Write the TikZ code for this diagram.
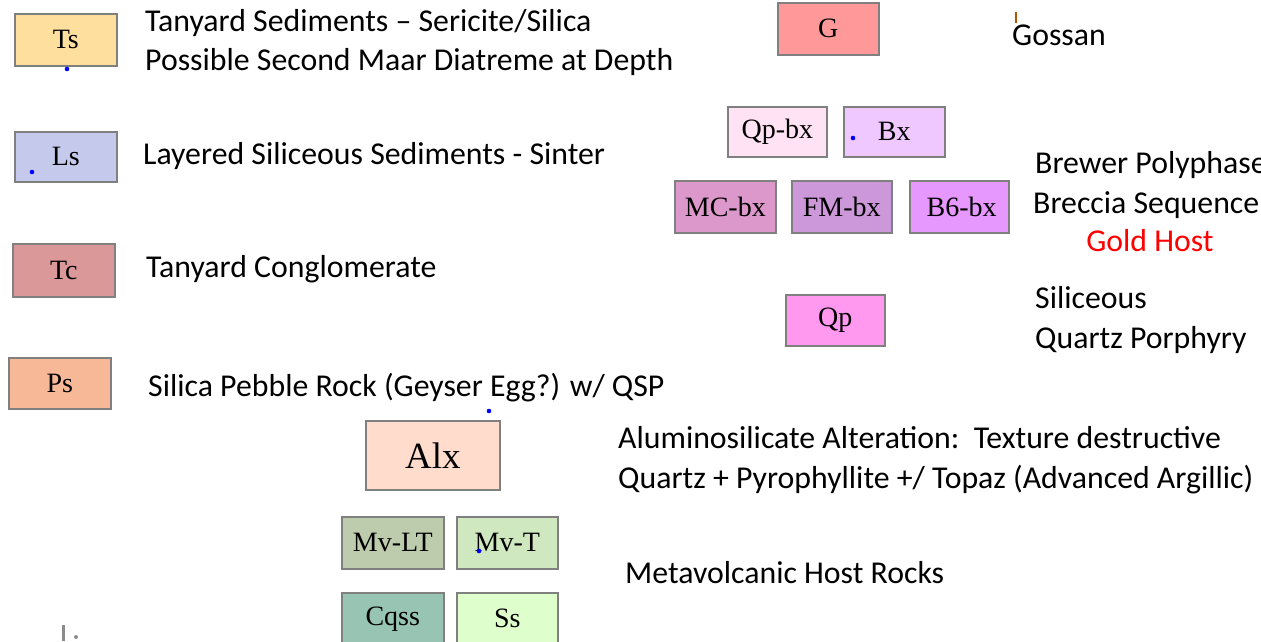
\documentclass[tikz,border=0pt]{standalone}
\usepackage{fontspec}
\setmainfont{Carlito}
\newfontfamily\boxfont{Liberation Serif}
\begin{document}
\begin{tikzpicture}[x=1pt,y=-1pt,
  unit/.style={draw=black!50, line width=1.6pt, inner sep=0pt, anchor=north west,
    font=\boxfont\fontsize{28}{30}\selectfont},
  legend/.style={anchor=base west, inner sep=0pt, font=\fontsize{31.8}{34}\selectfont},
  speck/.style={fill=blue, draw=none}]
\useasboundingbox (0,0) rectangle (1261,641);
\definecolor{cTs}{HTML}{FFDF9E}
\definecolor{cLs}{HTML}{C5CAEC}
\definecolor{cTc}{HTML}{DA9898}
\definecolor{cPs}{HTML}{F6B896}
\definecolor{cG}{HTML}{FF9898}
\definecolor{cQpbx}{HTML}{FFE3F4}
\definecolor{cBx}{HTML}{EFC8FF}
\definecolor{cMC}{HTML}{DC98CB}
\definecolor{cFM}{HTML}{CC98DA}
\definecolor{cB6}{HTML}{E698FF}
\definecolor{cQp}{HTML}{FF98EE}
\definecolor{cAlx}{HTML}{FFDCCB}
\definecolor{cMvLT}{HTML}{BCCCAC}
\definecolor{cMvT}{HTML}{CFE8C0}
\definecolor{cCq}{HTML}{98C4B4}
\definecolor{cSs}{HTML}{DEFFCC}

% rock-unit boxes
\node[unit, fill=cTs, minimum width=102pt, minimum height=52pt] (ts) at (14,13) {Ts};
\node[unit, fill=cLs, minimum width=102pt, minimum height=50pt] (ls) at (14,131) {Ls};
\node[unit, fill=cTc, minimum width=102pt, minimum height=53pt] (tc) at (12,243) {Tc};
\node[unit, fill=cPs, minimum width=102pt, minimum height=51pt] (ps) at (8,357) {Ps};
\node[unit, fill=cG, minimum width=101pt, minimum height=52pt] (g) at (777,2) {G};
\node[unit, fill=cQpbx, minimum width=99pt, minimum height=50pt] (qpbx) at (727,106) {Qp-bx};
\node[unit, fill=cBx, minimum width=101pt, minimum height=50pt] (bx) at (843,106) {Bx};
\node[unit, fill=cMC, minimum width=101pt, minimum height=52pt] (mc) at (674,180) {MC-bx};
\node[unit, fill=cFM, minimum width=100pt, minimum height=52pt] (fm) at (791,180) {FM-bx};
\node[unit, fill=cB6, minimum width=99pt, minimum height=52pt] (b6) at (909,180) {\,B6-bx};
\node[unit, fill=cQp, minimum width=99pt, minimum height=51pt] (qp) at (785,294) {Qp};
\node[unit, fill=cAlx, minimum width=134pt, minimum height=69pt,
  font=\boxfont\fontsize{37}{39}\selectfont] (alx) at (365,420) {Alx};
\node[unit, fill=cMvLT, minimum width=102pt, minimum height=52pt] (mvlt) at (341,516) {Mv-LT};
\node[unit, fill=cMvT, minimum width=101pt, minimum height=52pt] (mvt) at (456,516) {Mv-T};
\node[unit, fill=cCq, minimum width=102pt, minimum height=52pt] (cq) at (341,592) {Cqss};
\node[unit, fill=cSs, minimum width=101pt, minimum height=52pt] (ss) at (456,592) {Ss};

% explanations
\node[legend] (tTs1) at (145,31) {Tanyard Sediments – Sericite/Silica};
\node[legend] (tTs2) at (145,70) {Possible Second Maar Diatreme at Depth};
\node[legend] (tLs) at (143,164) {Layered Siliceous Sediments - Sinter};
\node[legend] (tTc) at (146,277) {Tanyard Conglomerate};
\node[legend] (tPs) at (148,396) {Silica Pebble Rock (Geyser Egg?) w/ QSP};
\node[legend] (tG) at (1012,45) {Gossan};
\node[legend] (tB1) at (1035,173) {Brewer Polyphase};
\node[legend] (tB2) at (1033,213) {Breccia Sequence};
\node[legend, anchor=base, text=red] (tB3) at (1150,251) {Gold Host};
\node[legend] (tQp1) at (1035,308) {Siliceous};
\node[legend] (tQp2) at (1035,348) {Quartz Porphyry};
\node[legend] (tA1) at (618,448) {Aluminosilicate Alteration:\ \ Texture destructive};
\node[legend] (tA2) at (618,488) {Quartz + Pyrophyllite +/ Topaz (Advanced Argillic)};
\node[legend] (tMv) at (625,583) {Metavolcanic Host Rocks};

% stray marks
\fill[speck] (67,69) circle (2.3);
\fill[speck] (32,172) circle (2.3);
\fill[speck] (853,138) circle (2.3);
\fill[speck] (489,411) circle (2.3);
\fill[speck] (479,551) circle (2.3);
\draw[black!45, line width=3pt] (63,625) -- (63,641);
\fill[black!45] (76,637) circle (2);
\draw[orange!70!black, line width=1.8pt] (1016,12) -- (1016,23);
\end{tikzpicture}
\end{document}
